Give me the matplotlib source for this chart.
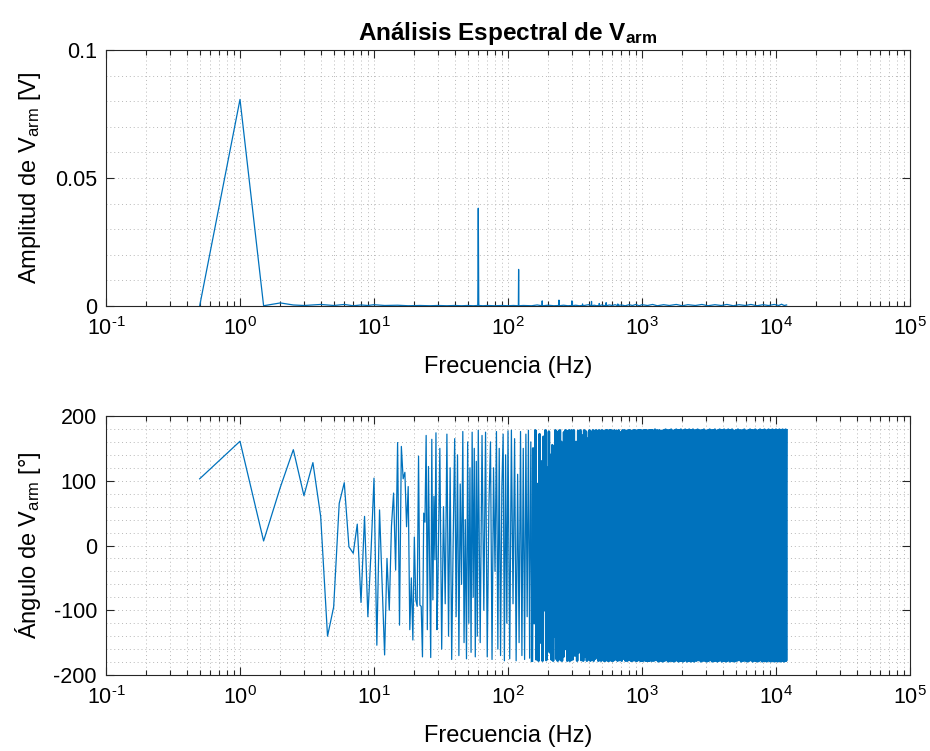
import numpy as np
import matplotlib
matplotlib.use("Agg")
import matplotlib.pyplot as plt
from matplotlib.ticker import FixedLocator, LogLocator, MultipleLocator, FuncFormatter, NullFormatter

# ---------------- data ----------------
# Amplitude spectrum: frequency (Hz) and amplitude (V)
amp_freq = [0.5, 1.0, 1.5, 2.0, 2.5, 3.0, 4.0, 5.0, 6.0, 7.0,
            8.0, 9.0, 10, 12, 15, 18, 22, 26, 30, 35,
            40, 45, 50, 55, 59.5, 60.0, 60.5, 65, 70, 80,
            90, 100, 110, 119.5, 120.0, 120.5, 130, 150, 165, 179.5,
            180.0, 180.5, 200, 220, 239.5, 240.0, 240.5, 260, 280, 299.5,
            300.0, 300.5, 320, 340, 359.5, 360.0, 360.5, 380, 400, 419.5,
            420.0, 420.5, 440, 460, 479.5, 480.0, 480.5, 500, 520, 539.5,
            540.0, 540.5, 570, 600, 630, 659.5, 660.0, 660.5, 700, 750,
            800, 850, 900, 950, 1000, 1100, 1200, 1300, 1450, 1600,
            1800, 2000, 2200, 2500, 2800, 3100, 3500, 3900, 4300, 4800,
            5300, 5900, 6500, 7200, 8000, 8800, 9700, 10500, 11000, 11500, 12000]
amp_val = [0.0, 0.0807, 0.0001, 0.0012, 0.0004, 0.0002, 0.0006, 0.0002, 0.0006, 0.0001,
           0.0004, 0.0002, 0.0005, 0.0002, 0.0003, 0.0001, 0.0002, 0.0001, 0.0002, 0.0001,
           0.0002, 0.0001, 0.0002, 0.0001, 0.0002, 0.0382, 0.0002, 0.0001, 0.0002, 0.0001,
           0.0002, 0.0001, 0.0002, 0.0001, 0.0143, 0.0001, 0.0002, 0.0001, 0.0004, 0.0001,
           0.0020, 0.0001, 0.0003, 0.0001, 0.0002, 0.0023, 0.0001, 0.0003, 0.0001, 0.0002,
           0.0020, 0.0001, 0.0003, 0.0001, 0.0002, 0.0008, 0.0001, 0.0003, 0.0005, 0.0001,
           0.0018, 0.0001, 0.0003, 0.0001, 0.0002, 0.0010, 0.0001, 0.0004, 0.0002, 0.0001,
           0.0013, 0.0001, 0.0004, 0.0002, 0.0005, 0.0001, 0.0008, 0.0002, 0.0004, 0.0001,
           0.0005, 0.0002, 0.0006, 0.0001, 0.0005, 0.0002, 0.0006, 0.0001, 0.0005, 0.0002,
           0.0006, 0.0001, 0.0005, 0.0002, 0.0006, 0.0001, 0.0005, 0.0002, 0.0006, 0.0001,
           0.0005, 0.0002, 0.0006, 0.0001, 0.0005, 0.0002, 0.0006, 0.0002, 0.0007, 0.0002, 0.0004]

# Phase spectrum: frequency bins (Hz) of each stretch, and phase (degrees)
ph_freq_A = np.arange(0.5, 10.01, 0.5)
ph_A = [103, 161, 7, 90, 148, 77, 128, 45, -140, -95,
        65, 97, -2, -12, 33, -88, 45, -110, -10, 104]
ph_freq_B = np.arange(10.5, 30.01, 0.5)
ph_B = [-154, 55, -60, -169, -20, -100, 30, 81, -38, 159,
        -123, 153, 103, 113, 29, 91, -130, -50, -146, 13,
        -84, -94, 138, -92, -94, -172, 50, 36, 170, -130,
        122, -27, -173, 164, -84, 76, -22, 174, -130, -53]
ph_freq_C1 = np.arange(31, 60.01, 1)
ph_C1 = [150, -160, 60, -90, 172, -140, 120, -176, 10, 165,
         -110, 140, -170, 95, -60, 176, -150, 40, -175, 160,
         -120, 120, -165, 175, -80, 150, -172, 130, -140, 178]
ph_freq_C2 = np.arange(62, 100.01, 2)
ph_C2 = [-150, 170, -100, 175, -172, 60, 160, -176, 120, -40,
         176, -160, 150, -170, 90, 172, -178, 140, -120, 177]
ph_freq_D = np.arange(103, 148.01, 3)
ph_D = [-175, 178, -90, 165, -178, 110, -150, 176, -170, 150,
        -176, 172, -110, 178, -174, 160]
ph_freq_E = np.arange(151, 298.01, 3)
ph_E = [-178, 150, -120, 178, -176, 95, -178, 172, -150, 130,
        -178, 168, -100, 178, -177, 120, -160, 176, -165, 140,
        -176, 155, -178, 110, -140, 178, -175, 150, -178, 176,
        -130, 178, -177, 160, -178, 125, -172, 175, -150, 178,
        -160, 177, -178, 140, -176, 178, -178, 165, -177, 178]
ph_freq_F = np.arange(304, 598.01, 6)
ph_F = [-176, 178, -170, 160, -178, 177, -165, 178, -177, 170,
        -178, 178, -172, 176, -178, 165, -176, 178, -178, 174,
        -170, 178, -178, 177, -175, 178, -160, 176, -178, 178,
        -177, 172, -178, 178, -174, 177, -178, 168, -178, 178,
        -176, 178, -178, 175, -178, 178, -172, 178, -178, 177]
ph_freq_G = np.arange(610, 1198.01, 12)
ph_G = [-178, 178, -176, 177, -178, 178, -177, 175, -178, 178,
        -175, 178, -178, 177, -178, 178, -176, 178, -178, 176,
        -178, 178, -177, 178, -178, 177, -178, 178, -176, 178,
        -178, 178, -178, 177, -178, 178, -177, 178, -178, 178,
        -178, 176, -178, 178, -178, 178, -177, 178, -178, 178]
ph_freq_H = np.arange(1225, 2400.01, 25)
ph_H = [-178, 179, -177, 178, -179, 178, -178, 177, -179, 178,
        -178, 179, -177, 178, -179, 178, -178, 179, -178, 177,
        -179, 178, -178, 179, -177, 178, -179, 178, -178, 179,
        -178, 177, -179, 178, -178, 179, -177, 178, -179, 178,
        -178, 179, -178, 177, -179, 178, -178, 179]
ph_freq_I = np.arange(2450, 4800.01, 50)
ph_I = [-179, 178, -178, 179, -177, 178, -179, 178, -178, 179,
        -178, 177, -179, 178, -178, 179, -177, 178, -179, 178,
        -178, 179, -178, 177, -179, 178, -178, 179, -177, 178,
        -179, 178, -178, 179, -178, 177, -179, 178, -178, 179,
        -177, 178, -179, 178, -178, 179, -178, 177]
ph_freq_J = np.arange(4900, 12000.01, 100)
ph_J = [-179, 178, -178, 179, -177, 178, -179, 178, -178, 179,
        -178, 177, -179, 178, -178, 179, -177, 178, -179, 178,
        -178, 179, -178, 177, -179, 178, -178, 179, -177, 178,
        -179, 178, -178, 179, -178, 177, -179, 178, -178, 179,
        -177, 178, -179, 178, -178, 179, -178, 177, -179, 178,
        -178, 179, -177, 178, -179, 178, -178, 179, -178, 177,
        -179, 178, -178, 179, -177, 178, -179, 178, -178, 179,
        -178, 178]

sparse_freq = np.concatenate([ph_freq_A, ph_freq_B, ph_freq_C1, ph_freq_C2, ph_freq_D])
sparse_val = np.concatenate([ph_A, ph_B, ph_C1, ph_C2, ph_D])
dense_freq = np.concatenate([ph_freq_E, ph_freq_F, ph_freq_G, ph_freq_H, ph_freq_I, ph_freq_J])
dense_val = np.concatenate([ph_E, ph_F, ph_G, ph_H, ph_I, ph_J])

title_text = r"Análisis Espectral de V$_{\mathbf{arm}}$"
xlabel_text = "Frecuencia (Hz)"
ylabel_amp = r"Amplitud de V$_{\mathrm{arm}}$ [V]"
ylabel_ph = r"Ángulo de V$_{\mathrm{arm}}$ [°]"
x_ticks = [1e-1, 1e0, 1e1, 1e2, 1e3, 1e4, 1e5]
amp_ticks = [0, 0.05, 0.1]
ph_ticks = [-200, -100, 0, 100, 200]

# ---------------- style ----------------
plt.rcParams.update({
    "font.family": ["Liberation Sans", "DejaVu Sans"],
    "mathtext.fontset": "custom",
    "mathtext.rm": "Liberation Sans",
    "mathtext.it": "Liberation Sans:italic",
    "mathtext.bf": "Liberation Sans:bold",
    "mathtext.sf": "Liberation Sans",
    "axes.unicode_minus": False,
})

LINE = "#0072BD"
AXC = "#262626"
TICK_FS = 15.5
LABEL_FS = 17
TITLE_FS = 17.5
W, H = 930, 751
fig = plt.figure(figsize=(W / 100, H / 100), dpi=100)

def make_ax(top_px, bot_px):
    left, right = 106, 910
    return fig.add_axes([left / W, 1 - bot_px / H, (right - left) / W, (bot_px - top_px) / H])

ax1 = make_ax(50, 306)
ax2 = make_ax(416, 675)

def dec_label(v, p):
    e = int(round(np.log10(v)))
    if e < 0:
        return r"$\mathdefault{10^{\text{-}%d}}$" % (-e)
    return r"$\mathdefault{10^{%d}}$" % e

def style(ax, yticks, yminor, fmt):
    ax.set_xscale("log")
    ax.set_xlim(x_ticks[0], x_ticks[-1])
    ax.xaxis.set_major_locator(FixedLocator(x_ticks))
    ax.xaxis.set_minor_locator(LogLocator(base=10, subs=np.arange(2, 10), numticks=100))
    ax.xaxis.set_minor_formatter(NullFormatter())
    ax.xaxis.set_major_formatter(FuncFormatter(dec_label))
    ax.set_ylim(yticks[0], yticks[-1])
    ax.yaxis.set_major_locator(FixedLocator(yticks))
    ax.yaxis.set_minor_locator(MultipleLocator(yminor))
    ax.yaxis.set_major_formatter(FuncFormatter(fmt))
    ax.grid(True, which="both", linestyle=(0, (1, 3)), color="#b8b8b8", linewidth=0.7)
    ax.set_axisbelow(True)
    for s in ax.spines.values():
        s.set_color(AXC)
        s.set_linewidth(0.8)
    ax.tick_params(which="both", direction="in", top=True, right=True, colors=AXC,
                   labelcolor="#000000", width=0.8, labelsize=TICK_FS)
    ax.tick_params(which="major", length=6)
    ax.tick_params(axis="x", which="major", pad=8)
    ax.tick_params(axis="y", which="major", pad=6.5)
    ax.tick_params(axis="x", which="minor", length=3.3)
    ax.tick_params(axis="y", which="minor", length=0)
    ax.set_xlabel(xlabel_text, fontsize=LABEL_FS, va="top")

style(ax1, amp_ticks, 0.01, lambda v, p: "%g" % v)
style(ax2, ph_ticks, 20, lambda v, p: "%d" % v)

ax1.plot(amp_freq, amp_val, color=LINE, linewidth=0.9)
# low-frequency part of the phase trace, then the dense high-frequency part
ax2.plot(np.append(sparse_freq, dense_freq[0]), np.append(sparse_val, dense_val[0]),
         color=LINE, linewidth=0.9)
ax2.plot(dense_freq, dense_val, color=LINE, linewidth=1.8)

ax1.set_title(title_text, fontsize=TITLE_FS, fontweight="bold", pad=7)
ax1.set_ylabel(ylabel_amp, fontsize=LABEL_FS)
ax2.set_ylabel(ylabel_ph, fontsize=LABEL_FS)
ax1.yaxis.set_label_coords(-0.078, 0.5)
ax2.yaxis.set_label_coords(-0.078, 0.5)
ax1.xaxis.set_label_coords(0.5, -0.195)
ax2.xaxis.set_label_coords(0.5, -0.192)

fig.savefig("out.png", dpi=100, facecolor="white")
